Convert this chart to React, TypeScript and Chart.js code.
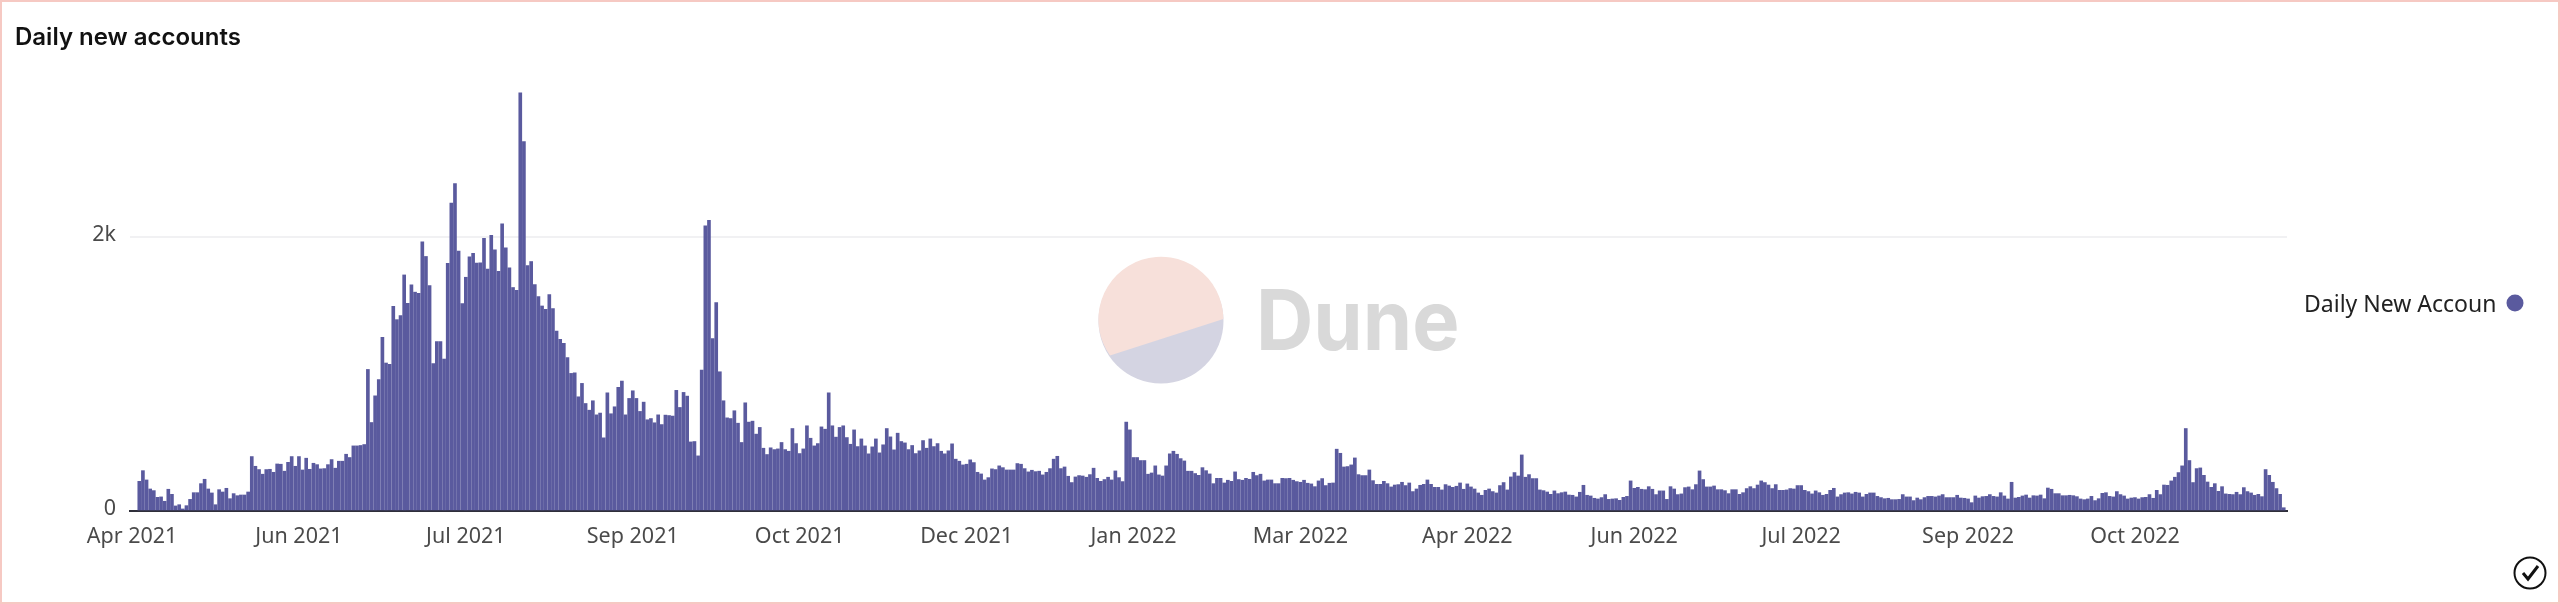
import React, { useEffect, useRef } from "react";
import { Chart, registerables } from "chart.js";

Chart.register(...registerables);

const seriesName = "Daily New Accounts";
const chartTitle = "Daily new accounts";
const tickLabels = ["Apr 2021", "Jun 2021", "Jul 2021", "Sep 2021", "Oct 2021", "Dec 2021", "Jan 2022", "Mar 2022", "Apr 2022", "Jun 2022", "Jul 2022", "Sep 2022", "Oct 2022"];
const tickDays = [-2, 44, 90, 136, 182, 228, 274, 320, 366, 412, 458, 504, 550];
const valueTicks = [0, 2000];

const dailyNewAccounts = [
  217, 295, 227, 161, 149, 100, 103, 71, 159, 122, 37, 46, 15, 39, 85, 134, 134, 200, 232, 161,
  132, 46, 156, 139, 166, 90, 127, 112, 117, 117, 139, 398, 327, 303, 269, 303, 305, 283, 344, 342,
  291, 356, 398, 327, 398, 300, 386, 305, 349, 339, 308, 310, 339, 376, 313, 364, 364, 415, 391, 476,
  476, 479, 486, 1035, 647, 842, 960, 1270, 1082, 1072, 1497, 1399, 1429,
  1726, 1519, 1653, 1600, 1592, 1968, 1861, 1648, 1077, 1238, 1238, 1111, 1810, 2252, 2393, 1900, 1516, 1709,
  1858, 1883, 1812, 1814, 1993, 1768, 2015, 1910, 1753, 2100, 1924, 1778, 1634, 1614, 3057, 2701, 1795, 1824,
  1656, 1568, 1499, 1475, 1582, 1480, 1316, 1255, 1226, 1121, 1006, 1011, 835, 933, 786, 737, 806, 703, 716,
  535, 864, 711, 762, 904, 950, 703, 823, 879, 823, 728, 796, 667, 676, 645, 703,
  632, 701, 698, 694, 882, 757, 867, 840, 505, 508, 403, 1031, 2085, 2125, 1260, 1524, 1018, 806, 681, 676,
  733, 642, 501, 791, 650, 657, 562, 611, 459, 413, 462, 449, 454, 501, 449, 437, 603, 493, 420, 454,
  623, 532, 476, 493, 615, 598, 864, 623, 540, 611, 623, 537, 488, 593, 471, 527, 476, 418, 469, 527,
  425, 484, 603, 542, 447, 569, 508, 498, 449, 479, 420, 440,
  515, 459, 527, 471, 493, 437, 418, 440, 491, 379, 364, 337, 342, 374, 354, 283, 271, 227, 244, 308,
  303, 330, 317, 300, 300, 300, 347, 342, 310, 286, 298, 288, 291, 264, 283, 310, 379, 400, 310, 322,
  254, 208, 249, 259, 256, 247, 266, 313, 239, 217, 230, 247, 227, 293, 244, 215, 650, 593, 391, 391,
  369, 369, 269, 278, 330, 264, 256, 330, 418, 437, 415, 383,
  366, 291, 291, 274, 261, 317, 295, 271, 200, 239, 239, 205, 225, 217, 286, 230, 225, 239, 232, 283,
  259, 269, 220, 227, 227, 200, 200, 239, 237, 239, 225, 215, 210, 225, 203, 198, 178, 220, 237, 186,
  203, 205, 452, 422, 322, 325, 337, 388, 266, 259, 259, 300, 222, 195, 195, 217, 200, 176, 190, 193,
  210, 186, 205, 142, 161, 188, 195, 227, 195, 173, 173,
  154, 193, 183, 173, 181, 205, 159, 198, 176, 161, 132, 115, 151, 161, 142, 132, 186, 208, 154, 249,
  281, 256, 410, 247, 266, 237, 237, 154, 149, 139, 122, 147, 127, 134, 139, 117, 115, 103, 137, 188,
  115, 110, 93, 88, 98, 120, 85, 88, 90, 78, 100, 107, 220, 166, 173, 159, 156, 178, 159, 120,
  147, 147, 85, 178, 161, 120, 125, 171, 176, 156, 193, 293, 230, 176, 176,
  183, 156, 156, 149, 127, 156, 156, 122, 134, 164, 178, 164, 190, 220, 208, 190, 164, 193, 151, 151,
  154, 164, 161, 186, 186, 151, 142, 125, 147, 134, 115, 122, 151, 166, 103, 120, 132, 134, 125, 137,
  132, 103, 122, 132, 132, 107, 98, 90, 93, 83, 83, 85, 120, 103, 103, 76, 95, 83, 98, 107,
  107, 103, 110, 120, 98, 98, 98, 115, 95, 93, 88, 61, 110, 95, 105, 107, 120,
  107, 103, 134, 110, 88, 210, 95, 100, 110, 117, 95, 112, 110, 117, 90, 168, 159, 127, 127, 112,
  112, 115, 112, 105, 88, 83, 88, 107, 76, 90, 129, 134, 107, 103, 142, 120, 110, 88, 95, 98,
  88, 98, 100, 120, 93, 151, 120, 190, 188, 220, 247, 281, 330, 603, 369, 208, 310, 315, 261, 212,
  173, 200, 144, 178, 125, 122, 120, 137, 120, 171, 142, 132, 115, 122, 105, 303, 261, 210, 164, 122, 24,
];

const FONT = "'Noto Sans', Roboto, sans-serif";

export default function App() {
  const ref = useRef<HTMLCanvasElement | null>(null);

  useEffect(() => {
    document.body.style.margin = "0";
    document.body.style.background = "#fff";
    const chart = new Chart(ref.current as HTMLCanvasElement, {
      type: "bar",
      data: {
        datasets: [
          {
            label: seriesName,
            data: dailyNewAccounts.map((y, x) => ({ x, y })),
            backgroundColor: "#5a5a9e",
            barThickness: 3.0,
          },
        ],
      },
      options: {
        responsive: false,
        animation: false,
        devicePixelRatio: 1,
        layout: { padding: { top: 87, right: 273, left: 0, bottom: 0 } },
        plugins: { legend: { display: false }, title: { display: false }, tooltip: { enabled: false } },
        scales: {
          x: {
            type: "linear",
            offset: false,
            min: -2.56,
            max: 591.9,
            grid: { display: false },
            border: { display: true, color: "#2f2f3a", width: 2 },
            afterBuildTicks: (s: any) => {
              s.ticks = tickDays.map((value) => ({ value }));
            },
            afterFit: (s: any) => {
              s.height = 93;
            },
            ticks: {
              autoSkip: false,
              maxRotation: 0,
              minRotation: 0,
              padding: 5,
              color: "#4a4a4a",
              font: { family: FONT, size: 21.5 },
              callback: (_v: any, i: number) => tickLabels[i],
            },
          },
          y: {
            min: 0,
            max: 3100,
            border: { display: false },
            grid: { color: "#f1f1f3", lineWidth: 2, drawTicks: false },
            afterBuildTicks: (s: any) => {
              s.ticks = valueTicks.map((value) => ({ value }));
            },
            afterFit: (s: any) => {
              s.width = 130;
            },
            ticks: {
              padding: 14,
              color: "#4a4a4a",
              font: { family: FONT, size: 21.5, lineHeight: "5px" },
              callback: (v: any) => [v === 0 ? "0" : `${Number(v) / 1000}k`, ""],
            },
          },
        },
      },
    } as any);
    return () => chart.destroy();
  }, []);

  return (
    <div style={{ position: "relative", width: 2560, height: 604, overflow: "hidden", background: "#fff" }}>
      <svg width={2560} height={604} style={{ position: "absolute", left: 0, top: 0 }}>
        <circle cx={1161} cy={321} r={62.5} fill="#d4d4e2" />
        <path d="M1110 355.6 A62.5 62.5 0 1 1 1223.4 319 Z" fill="#f7e0da" />
      </svg>
      <div
        style={{
          position: "absolute",
          left: 1256,
          top: 260,
          fontFamily: "Inter, sans-serif",
          fontWeight: 700,
          fontSize: 84,
          lineHeight: "120px",
          color: "#d9d9d9",
          transform: "scaleX(0.945)",
          transformOrigin: "left center",
        }}
      >
        Dune
      </div>
      <canvas ref={ref} width={2560} height={604} style={{ position: "absolute", left: 0, top: 0, display: "block" }} />
      <div
        style={{
          position: "absolute",
          left: 15,
          top: 20,
          fontFamily: "Inter, sans-serif",
          fontWeight: 600,
          fontSize: 24,
          lineHeight: "34px",
          color: "#111",
        }}
      >
        {chartTitle}
      </div>
      <div
        style={{
          position: "absolute",
          left: 2304,
          top: 288,
          width: 192,
          overflow: "hidden",
          whiteSpace: "nowrap",
          fontFamily: FONT,
          fontSize: 23,
          lineHeight: "30px",
          color: "#222",
        }}
      >
        {seriesName}
      </div>
      <svg width={2560} height={604} style={{ position: "absolute", left: 0, top: 0, pointerEvents: "none" }}>
        <circle cx={2515} cy={303} r={8.5} fill="#5a5a9e" />
        <circle cx={2530} cy={573} r={15.5} fill="none" stroke="#111" strokeWidth={2} />
        <path d="M2523 573 L2528 579 L2538 566" fill="none" stroke="#111" strokeWidth={3} />
      </svg>
      <div
        style={{
          position: "absolute",
          inset: 0,
          boxSizing: "border-box",
          border: "2.5px solid #f6c9c3",
          pointerEvents: "none",
        }}
      />
    </div>
  );
}
